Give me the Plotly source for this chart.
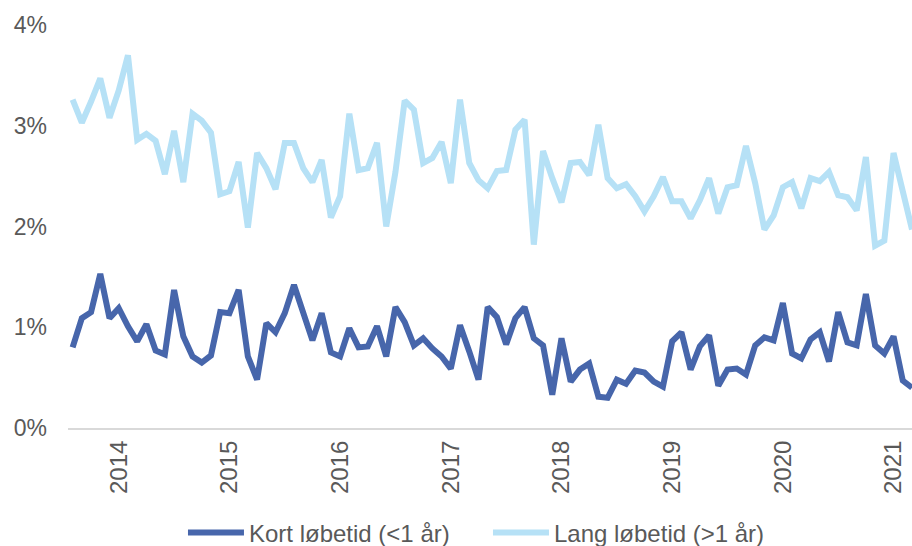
import pandas as pd
import plotly.graph_objects as go

# månedlige observationer aug 2013 - mar 2021
months = [d.strftime('%Y-%m') for d in pd.date_range('2013-08-01', periods=92, freq='MS')]

kort = [0.80, 1.09, 1.15, 1.53, 1.09, 1.19, 1.01, 0.86, 1.03, 0.77, 0.73, 1.37, 0.91, 0.71, 0.65, 0.72, 1.15, 1.14, 1.37, 0.71, 0.48, 1.04, 0.95,
        1.14, 1.42, 1.12, 0.87, 1.14, 0.75, 0.71, 0.99, 0.80, 0.81, 1.01, 0.71, 1.20, 1.05, 0.82, 0.89, 0.79, 0.71, 0.59, 1.02, 0.76, 0.48, 1.20,
        1.10, 0.83, 1.09, 1.20, 0.89, 0.82, 0.33, 0.89, 0.46, 0.58, 0.64, 0.31, 0.30, 0.48, 0.44, 0.57, 0.55, 0.46, 0.41, 0.86, 0.95, 0.58,
        0.81, 0.92, 0.42, 0.58, 0.59, 0.53, 0.82, 0.90, 0.87, 1.24, 0.74, 0.69, 0.88, 0.95, 0.66, 1.15, 0.85, 0.82, 1.33, 0.82, 0.74, 0.91, 0.47, 0.40]

lang = [3.26, 3.03, 3.24, 3.47, 3.08, 3.35, 3.70, 2.86, 2.92, 2.85, 2.52, 2.95, 2.44, 3.12, 3.05, 2.93, 2.32, 2.35, 2.64, 1.99, 2.73, 2.58, 2.37,
        2.83, 2.83, 2.58, 2.44, 2.66, 2.09, 2.30, 3.12, 2.56, 2.58, 2.83, 2.00, 2.54, 3.25, 3.16, 2.63, 2.68, 2.84, 2.43, 3.26, 2.63, 2.46, 2.38,
        2.55, 2.56, 2.96, 3.06, 1.82, 2.75, 2.48, 2.24, 2.63, 2.64, 2.51, 3.01, 2.48, 2.38, 2.42, 2.30, 2.15, 2.30, 2.49, 2.25, 2.25, 2.08,
        2.26, 2.48, 2.13, 2.39, 2.41, 2.80, 2.43, 1.97, 2.11, 2.39, 2.44, 2.18, 2.48, 2.45, 2.54, 2.31, 2.29, 2.16, 2.69, 1.81, 1.86, 2.73, 2.35, 1.97]

year_ticks = ['2014-01', '2015-01', '2016-01', '2017-01', '2018-01', '2019-01', '2020-01', '2021-01']
year_labels = ['2014', '2015', '2016', '2017', '2018', '2019', '2020', '2021']
y_ticks = [0, 1, 2, 3, 4]
y_labels = ['0%', '1%', '2%', '3%', '4%']

colors = {
    'kort': '#4766AB',
    'lang': '#B6E1F6',
    'text': '#595959',
    'axis': '#D9D9D9',
}

fig = go.Figure()
fig.add_trace(go.Scatter(x=months, y=kort, mode='lines', name='Kort løbetid (<1 år)',
                         line=dict(color=colors['kort'], width=6)))
fig.add_trace(go.Scatter(x=months, y=lang, mode='lines', name='Lang løbetid (>1 år)',
                         line=dict(color=colors['lang'], width=6)))

fig.update_layout(
    width=912, height=546,
    font=dict(family='Liberation Sans, Arial', size=23, color=colors['text']),
    plot_bgcolor='white', paper_bgcolor='white',
    margin=dict(l=68, r=0, t=25, b=118, autoexpand=False),
    xaxis=dict(type='category', range=[-0.5, 91.0], tickvals=year_ticks, ticktext=year_labels,
               tickangle=-90, showgrid=False, showline=True, linecolor=colors['axis'], linewidth=2,
               ticks='', ticklabelstandoff=1, automargin=False, tickfont=dict(size=24)),
    yaxis=dict(range=[0, 4], tickvals=y_ticks, ticktext=y_labels, showgrid=False, zeroline=False,
               showline=False, ticks='', ticklabelstandoff=20, automargin=False),
    legend=dict(orientation='h', x=0.4976, xanchor='center', y=-0.26, yanchor='middle',
                font=dict(size=24), itemwidth=56, entrywidth=234),
    showlegend=True,
)

# fjern browserens standard body-margin, så figuren fylder vinduet præcist
fig.write_html("out.html", config={'displayModeBar': False},
               post_script="document.body.style.margin='0';")
